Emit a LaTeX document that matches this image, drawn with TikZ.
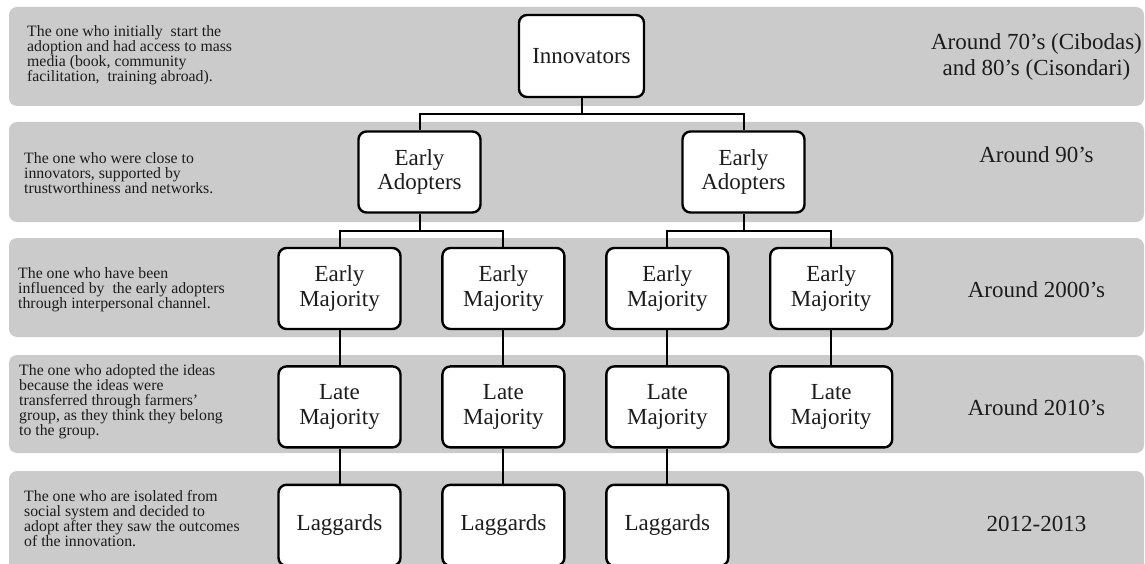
\documentclass[tikz,border=0pt]{standalone}
\usepackage{fontspec}
\setmainfont{Liberation Serif}
\usetikzlibrary{positioning}
\definecolor{bandgray}{HTML}{CBCBCB}
\definecolor{ink}{HTML}{1C1C1C}
\tikzset{
  band/.style={fill=bandgray,rounded corners=8pt},
  stage/.style={draw=black,line width=2.4pt,fill=white,rounded corners=8pt,align=center,
                minimum width=122pt,minimum height=81pt,inner sep=2pt,text=ink,
                font=\fontsize{23}{24.5}\selectfont},
  link/.style={draw=black,line width=2pt},
  note/.style={anchor=west,align=left,inner sep=0pt,text=ink,font=\fontsize{15.8}{15}\selectfont},
  period/.style={align=center,inner sep=0pt,text=ink,font=\fontsize{23}{25.5}\selectfont}
}

\begin{document}
\begin{tikzpicture}[x=1pt,y=-1pt,node distance=35pt and 39.5pt]
  \clip (0,0) rectangle (1145,564);
  % grey rows
  \fill[band] (9,7) rectangle (1144,106);
  \fill[band] (9,122) rectangle (1144,222);
  \fill[band] (9,238) rectangle (1144,337);
  \fill[band] (9,355) rectangle (1144,453);
  \fill[band] (9,471) rectangle (1144,580);
  % tree
  \node[stage,minimum width=125pt,minimum height=82pt] (inno) at (581.5,56) {Innovators};
  \node[stage] (ea1) at (419.5,172) {Early\\Adopters};
  \node[stage] (ea2) at (743.5,172) {Early\\Adopters};
  \node[stage] (em1) at (339.5,288.5) {Early\\Majority};
  \node[stage,right=of em1] (em2) {Early\\Majority};
  \node[stage,right=of em2] (em3) {Early\\Majority};
  \node[stage,right=of em3] (em4) {Early\\Majority};
  \node[stage,below=of em1] (lm1) {Late\\Majority};
  \node[stage,below=of em2] (lm2) {Late\\Majority};
  \node[stage,below=of em3] (lm3) {Late\\Majority};
  \node[stage,below=of em4] (lm4) {Late\\Majority};
  \node[stage,below=of lm1] (lag1) {Laggards};
  \node[stage,below=of lm2] (lag2) {Laggards};
  \node[stage,below=of lm3] (lag3) {Laggards};
  \draw[link] (inno.south) -- ++(0,16) -| (ea1.north);
  \draw[link] (inno.south) -- ++(0,16) -| (ea2.north);
  \draw[link] (ea1.south) -- ++(0,17) -| (em1.north);
  \draw[link] (ea1.south) -- ++(0,17) -| (em2.north);
  \draw[link] (ea2.south) -- ++(0,17) -| (em3.north);
  \draw[link] (ea2.south) -- ++(0,17) -| (em4.north);
  \draw[link] (em1) -- (lm1); \draw[link] (em2) -- (lm2);
  \draw[link] (em3) -- (lm3); \draw[link] (em4) -- (lm4);
  \draw[link] (lm1) -- (lag1); \draw[link] (lm2) -- (lag2); \draw[link] (lm3) -- (lag3);
  % descriptions
  \node[note] (d1) at (27,55) {The one who initially\ \ start the\\adoption and had access to mass\\media (book, community\\facilitation,\ \ training abroad).};
  \node[note] (d2) at (24,173) {The one who were close to\\innovators, supported by\\trustworthiness and networks.};
  \node[note] (d3) at (18,290) {The one who have been\\influenced by\ \ the early adopters\\through interpersonal channel.};
  \node[note] (d4) at (19,402) {The one who adopted the ideas\\because the ideas were\\transferred through farmers'\\group, as they think they belong\\to the group.};
  \node[note] (d5) at (24,519) {The one who are isolated from\\social system and decided to\\adopt after they saw the outcomes\\of the innovation.};
  % periods
  \node[period] (p1) at (1036.5,57) {Around 70's (Cibodas)\\and 80's (Cisondari)};
  \node[period] (p2) at (1036.5,155) {Around 90's};
  \node[period] (p3) at (1036.5,290) {Around 2000's};
  \node[period] (p4) at (1036.5,408) {Around 2010's};
  \node[period] (p5) at (1036.5,524) {2012-2013};
\end{tikzpicture}
\end{document}
